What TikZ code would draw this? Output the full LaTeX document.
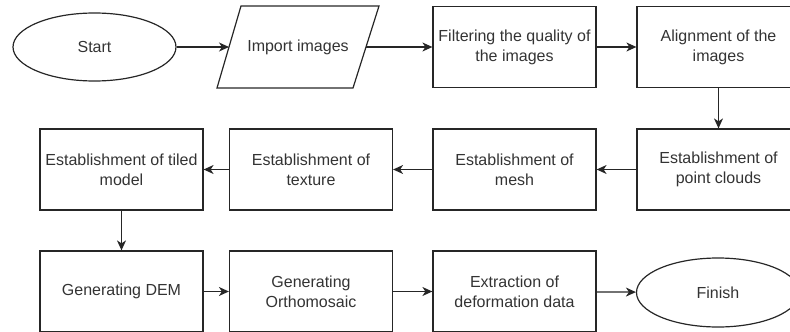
\documentclass[tikz,border=0pt]{standalone}
\usepackage{fontspec}
\setmainfont{Liberation Sans}
\usetikzlibrary{shapes.geometric,arrows.meta}
\begin{document}
\begin{tikzpicture}[x=1pt,y=-1pt,
  every node/.style={font=\fontsize{16}{20}\selectfont, text=black!80},
  stepbox/.style={draw=black!85, line width=1.2pt, minimum width=163pt, minimum height=81pt, align=center, inner sep=0pt},
  terminal/.style={draw=black!85, line width=1.2pt, ellipse, minimum width=163pt, minimum height=68pt, inner sep=0pt},
  conn/.style={draw=black!85, line width=1.2pt, -{Stealth[length=10pt,width=9pt,inset=3pt]}}]
\useasboundingbox (0,0) rectangle (790,332);
\clip (0,0) rectangle (790,332);
% row 1
\node[terminal] (start) at (94.5,47) {Start};
\draw[draw=black!85, line width=1.2pt] (241,6) -- (379,6) -- (353,88) -- (217,88) -- cycle;
\node (import) at (298,47) {Import images};
\coordinate (impL) at (229,47);
\coordinate (impR) at (366,47);
\node[stepbox] (filter) at (514.5,47) {Filtering the quality of\\the images};
\node[stepbox] (align) at (718.5,47) {Alignment of the\\images};
% row 2
\node[stepbox] (tiled) at (121.5,169.5) {Establishment of tiled\\model};
\node[stepbox] (texture) at (311,169.5) {Establishment of\\texture};
\node[stepbox] (mesh) at (514.5,169.5) {Establishment of\\mesh};
\node[stepbox] (cloud) at (718.5,169.5) {Establishment of\\point clouds};
% row 3
\node[stepbox] (dem) at (121.5,291.5) {Generating DEM};
\node[stepbox] (ortho) at (311,291.5) {Generating\\Orthomosaic};
\node[stepbox] (extract) at (514.5,291.5) {Extraction of\\deformation data};
\node[terminal, minimum height=69pt] (finish) at (718,292.5) {Finish};
% connectors
\draw[conn] (start) -- (impL);
\draw[conn] (impR) -- (filter);
\draw[conn] (filter) -- (align);
\draw[conn] (align) -- (cloud);
\draw[conn] (cloud) -- (mesh);
\draw[conn] (mesh) -- (texture);
\draw[conn] (texture) -- (tiled);
\draw[conn] (tiled) -- (dem);
\draw[conn] (dem) -- (ortho);
\draw[conn] (ortho) -- (extract);
\draw[conn] (extract) -- (finish);
\end{tikzpicture}
\end{document}
